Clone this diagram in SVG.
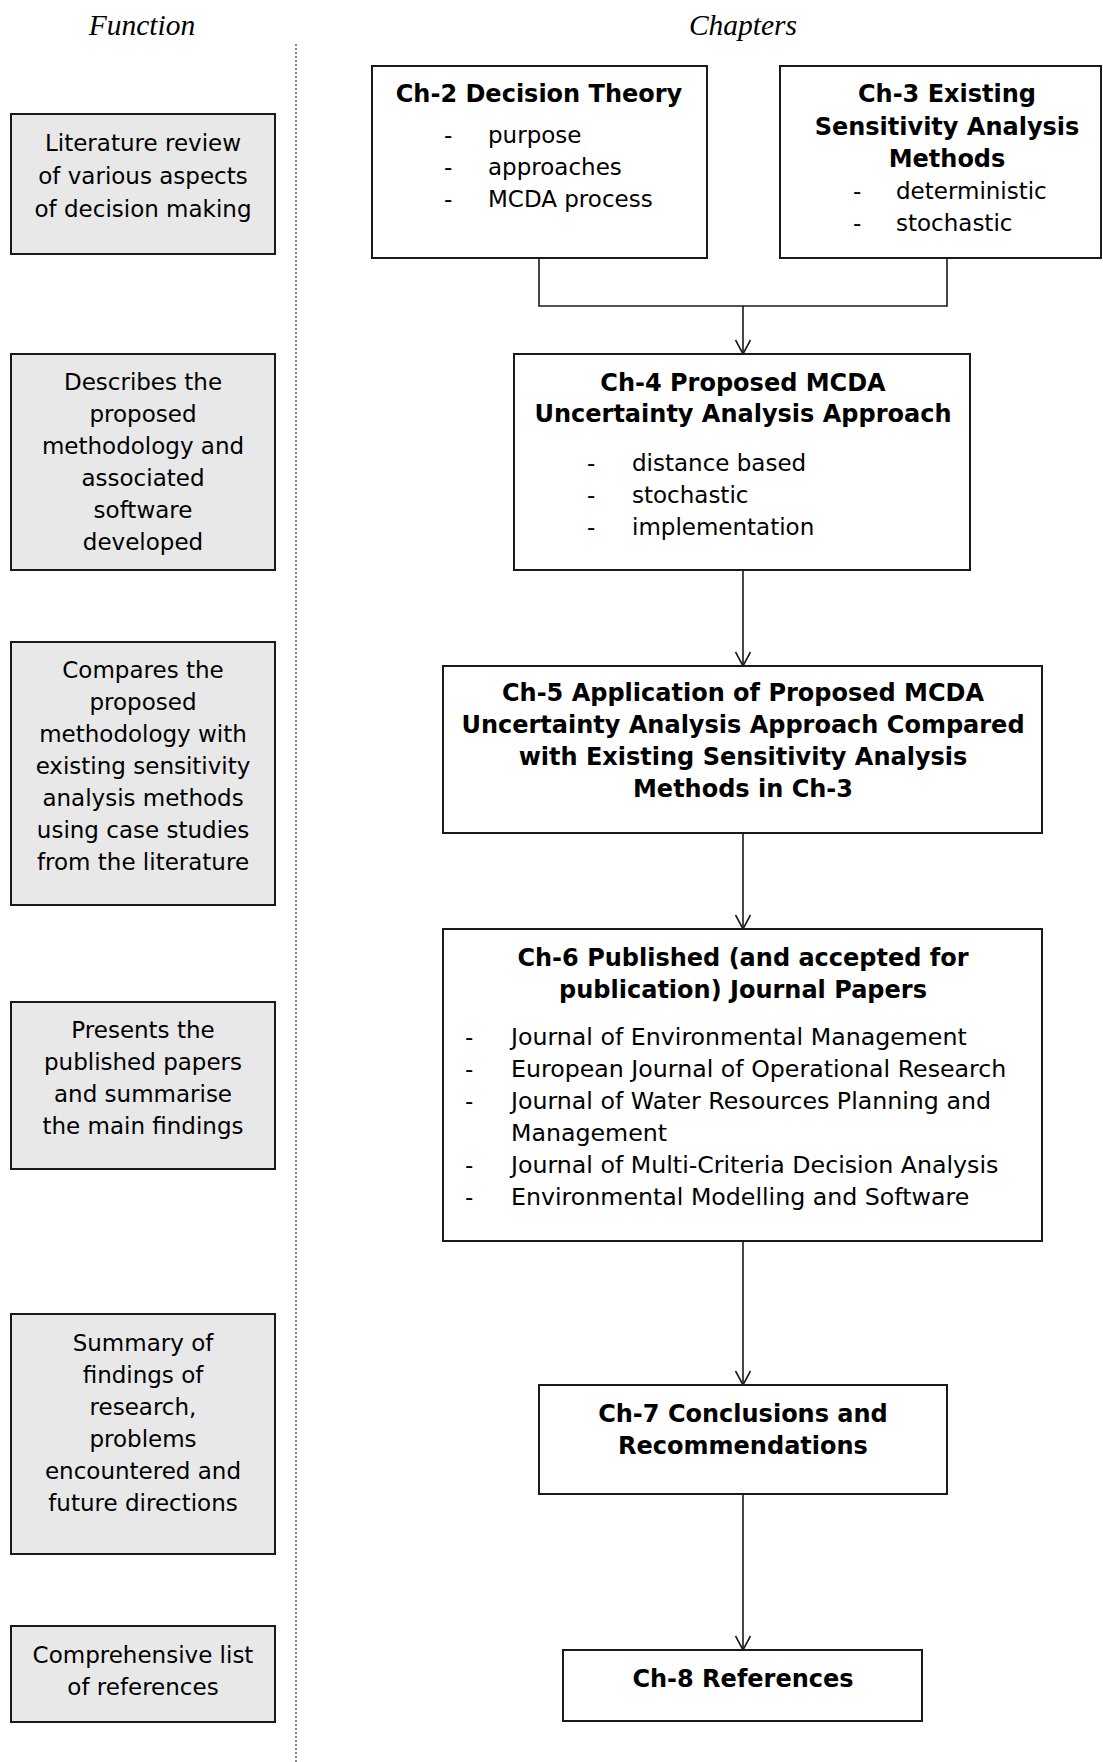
<svg xmlns="http://www.w3.org/2000/svg" width="1103" height="1762" viewBox="0 0 1103 1762">
  <style>
    .bg { fill: #ffffff; }
    .fn { fill: #e8e8e8; stroke: #1a1a1a; stroke-width: 2; }
    .ch { fill: #ffffff; stroke: #1a1a1a; stroke-width: 2; }
    .t { font-family: "DejaVu Sans", Verdana, sans-serif; font-size: 23px; fill: #000; }
    .l { font-size: 23.7px; }
    .b { font-family: "DejaVu Sans", Verdana, sans-serif; font-size: 24px; font-weight: bold; fill: #000; }
    .c { text-anchor: middle; }
    .h { font-family: "Liberation Serif", "Times New Roman", serif; font-style: italic; font-size: 29.5px; fill: #000; text-anchor: middle; }
    .link { fill: none; stroke: #1a1a1a; stroke-width: 1.6; }
    .sep { fill: none; stroke: #444; stroke-width: 1.3; stroke-dasharray: 2 2; }
  </style>
  <defs>
    <!-- open V arrowhead -->
    <marker id="arrow" viewBox="0 0 16 16" refX="15" refY="8" markerWidth="16" markerHeight="16" markerUnits="userSpaceOnUse" orient="auto">
      <path d="M1 0.5 L15 8 L1 15.5" fill="none" stroke="#1a1a1a" stroke-width="1.6"/>
    </marker>
  </defs>
  <rect class="bg" x="0" y="0" width="1103" height="1762"/>

  <!-- column headings -->
  <text class="h" x="142" y="35">Function</text>
  <text class="h" x="743" y="35">Chapters</text>
  <line class="sep" x1="296" y1="44" x2="296" y2="1762"/>

  <!-- function column -->
  <g id="fn-literature">
    <rect class="fn" x="11" y="114" width="264" height="140"/>
    <text class="t c" x="143" y="151">Literature review</text>
    <text class="t c" x="143" y="184">of various aspects</text>
    <text class="t c" x="143" y="217">of decision making</text>
  </g>
  <g id="fn-methodology">
    <rect class="fn" x="11" y="354" width="264" height="216"/>
    <text class="t c" x="143" y="390">Describes the</text>
    <text class="t c" x="143" y="422">proposed</text>
    <text class="t c" x="143" y="454">methodology and</text>
    <text class="t c" x="143" y="486">associated</text>
    <text class="t c" x="143" y="518">software</text>
    <text class="t c" x="143" y="550">developed</text>
  </g>
  <g id="fn-comparison">
    <rect class="fn" x="11" y="642" width="264" height="263"/>
    <text class="t c" x="143" y="678">Compares the</text>
    <text class="t c" x="143" y="710">proposed</text>
    <text class="t c" x="143" y="742">methodology with</text>
    <text class="t c" x="143" y="774">existing sensitivity</text>
    <text class="t c" x="143" y="806">analysis methods</text>
    <text class="t c" x="143" y="838">using case studies</text>
    <text class="t c" x="143" y="870">from the literature</text>
  </g>
  <g id="fn-papers">
    <rect class="fn" x="11" y="1002" width="264" height="167"/>
    <text class="t c" x="143" y="1038">Presents the</text>
    <text class="t c" x="143" y="1070">published papers</text>
    <text class="t c" x="143" y="1102">and summarise</text>
    <text class="t c" x="143" y="1134">the main findings</text>
  </g>
  <g id="fn-summary">
    <rect class="fn" x="11" y="1314" width="264" height="240"/>
    <text class="t c" x="143" y="1351">Summary of</text>
    <text class="t c" x="143" y="1383">findings of</text>
    <text class="t c" x="143" y="1415">research,</text>
    <text class="t c" x="143" y="1447">problems</text>
    <text class="t c" x="143" y="1479">encountered and</text>
    <text class="t c" x="143" y="1511">future directions</text>
  </g>
  <g id="fn-references">
    <rect class="fn" x="11" y="1626" width="264" height="96"/>
    <text class="t c" x="143" y="1663">Comprehensive list</text>
    <text class="t c" x="143" y="1695">of references</text>
  </g>

  <!-- connectors between chapters -->
  <g id="connectors">
    <polyline class="link" points="539,258 539,306 947,306 947,258"/>
    <line class="link" x1="743" y1="306" x2="743" y2="354" marker-end="url(#arrow)"/>
    <line class="link" x1="743" y1="570" x2="743" y2="666" marker-end="url(#arrow)"/>
    <line class="link" x1="743" y1="833" x2="743" y2="929" marker-end="url(#arrow)"/>
    <line class="link" x1="743" y1="1241" x2="743" y2="1385" marker-end="url(#arrow)"/>
    <line class="link" x1="743" y1="1494" x2="743" y2="1650" marker-end="url(#arrow)"/>
  </g>

  <!-- chapter column -->
  <g id="ch2">
    <rect class="ch" x="372" y="66" width="335" height="192"/>
    <text class="b c" x="539" y="102">Ch-2 Decision Theory</text>
    <text class="t" x="444" y="143">-</text><text class="t" x="488" y="143">purpose</text>
    <text class="t" x="444" y="175">-</text><text class="t" x="488" y="175">approaches</text>
    <text class="t" x="444" y="207">-</text><text class="t" x="488" y="207">MCDA process</text>
  </g>
  <g id="ch3">
    <rect class="ch" x="780" y="66" width="321" height="192"/>
    <text class="b c" x="947" y="102">Ch-3 Existing</text>
    <text class="b c" x="947" y="135">Sensitivity Analysis</text>
    <text class="b c" x="947" y="167">Methods</text>
    <text class="t" x="853" y="199">-</text><text class="t" x="896" y="199">deterministic</text>
    <text class="t" x="853" y="231">-</text><text class="t" x="896" y="231">stochastic</text>
  </g>
  <g id="ch4">
    <rect class="ch" x="514" y="354" width="456" height="216"/>
    <text class="b c" x="743" y="391">Ch-4 Proposed MCDA</text>
    <text class="b c" x="743" y="422">Uncertainty Analysis Approach</text>
    <text class="t" x="587" y="471">-</text><text class="t" x="632" y="471">distance based</text>
    <text class="t" x="587" y="503">-</text><text class="t" x="632" y="503">stochastic</text>
    <text class="t" x="587" y="535">-</text><text class="t" x="632" y="535">implementation</text>
  </g>
  <g id="ch5">
    <rect class="ch" x="443" y="666" width="599" height="167"/>
    <text class="b c" x="743" y="701">Ch-5 Application of Proposed MCDA</text>
    <text class="b c" x="743" y="733">Uncertainty Analysis Approach Compared</text>
    <text class="b c" x="743" y="765">with Existing Sensitivity Analysis</text>
    <text class="b c" x="743" y="797">Methods in Ch-3</text>
  </g>
  <g id="ch6">
    <rect class="ch" x="443" y="929" width="599" height="312"/>
    <text class="b c" x="743" y="966">Ch-6 Published (and accepted for</text>
    <text class="b c" x="743" y="998">publication) Journal Papers</text>
    <text class="t" x="465" y="1045">-</text><text class="t l" x="511" y="1045">Journal of Environmental Management</text>
    <text class="t" x="465" y="1077">-</text><text class="t l" x="511" y="1077">European Journal of Operational Research</text>
    <text class="t" x="465" y="1109">-</text><text class="t l" x="511" y="1109">Journal of Water Resources Planning and</text>
    <text class="t l" x="511" y="1141">Management</text>
    <text class="t" x="465" y="1173">-</text><text class="t l" x="511" y="1173">Journal of Multi-Criteria Decision Analysis</text>
    <text class="t" x="465" y="1205">-</text><text class="t l" x="511" y="1205">Environmental Modelling and Software</text>
  </g>
  <g id="ch7">
    <rect class="ch" x="539" y="1385" width="408" height="109"/>
    <text class="b c" x="743" y="1422">Ch-7 Conclusions and</text>
    <text class="b c" x="743" y="1454">Recommendations</text>
  </g>
  <g id="ch8">
    <rect class="ch" x="563" y="1650" width="359" height="71"/>
    <text class="b c" x="743" y="1687">Ch-8 References</text>
  </g>
</svg>
